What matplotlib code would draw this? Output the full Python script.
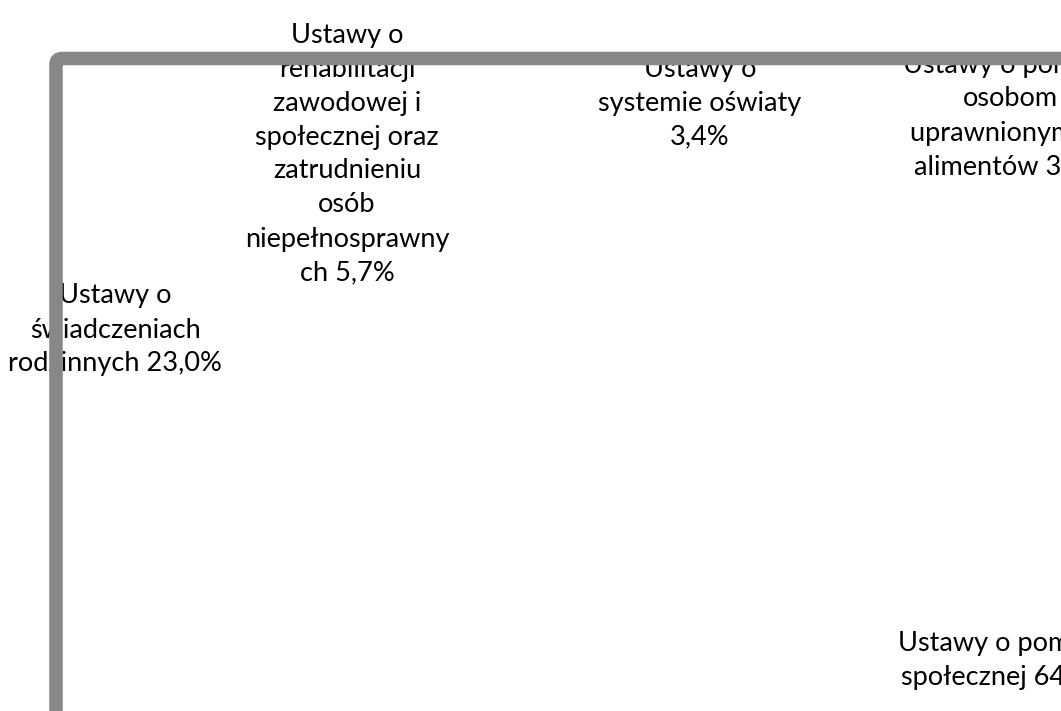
import matplotlib
matplotlib.use("Agg")
import matplotlib.pyplot as plt
from matplotlib.patches import FancyBboxPatch
from matplotlib.transforms import IdentityTransform

# ---- data ----
categories = [
    "Ustawy o pomocy\nspołecznej",
    "Ustawy o\nświadczeniach\nrodzinnych",
    "Ustawy o\nrehabilitacji\nzawodowej i\nspołecznej oraz\nzatrudnieniu\nosób\nniepełnosprawny\nch",
    "Ustawy o\nsystemie oświaty\n",
    "Ustawy o pomocy\nosobom\nuprawnionym do\nalimentów",
]
shares = [64.5, 23.0, 5.7, 3.4, 3.4]

# ---- layout (pixel centres of data labels, from top-left) ----
label_pos = [(1005, 661), (115, 330), (347, 154), (700, 103), (1010, 116)]

W, H = 1061, 711
fig = plt.figure(figsize=(W / 100, H / 100), dpi=100)
fig.patch.set_facecolor("white")

font = "Lato"

def fmt(v):
    return f"{v:.1f}".replace(".", ",") + "%"

for cat, val, (px, py) in zip(categories, shares, label_pos):
    if cat.endswith("\n"):
        txt = cat + fmt(val)
    else:
        txt = cat + " " + fmt(val)
    fig.text(px / W, 1 - py / H, txt, ha="center", va="center",
             multialignment="center", fontsize=19.5, family=font,
             color="black", linespacing=1.45, zorder=3)

# chart-area border (thick grey, rounded corner), drawn above the labels
lw_px = 13.5
frame = FancyBboxPatch((56, -200), 1400, (H - 58.5) + 200,
                       boxstyle="round,pad=0,rounding_size=6",
                       transform=IdentityTransform(), facecolor="none",
                       edgecolor="#878787", linewidth=lw_px * 72 / 100,
                       zorder=10)
fig.patches.append(frame)

fig.savefig("out.png", dpi=100, facecolor="white")
